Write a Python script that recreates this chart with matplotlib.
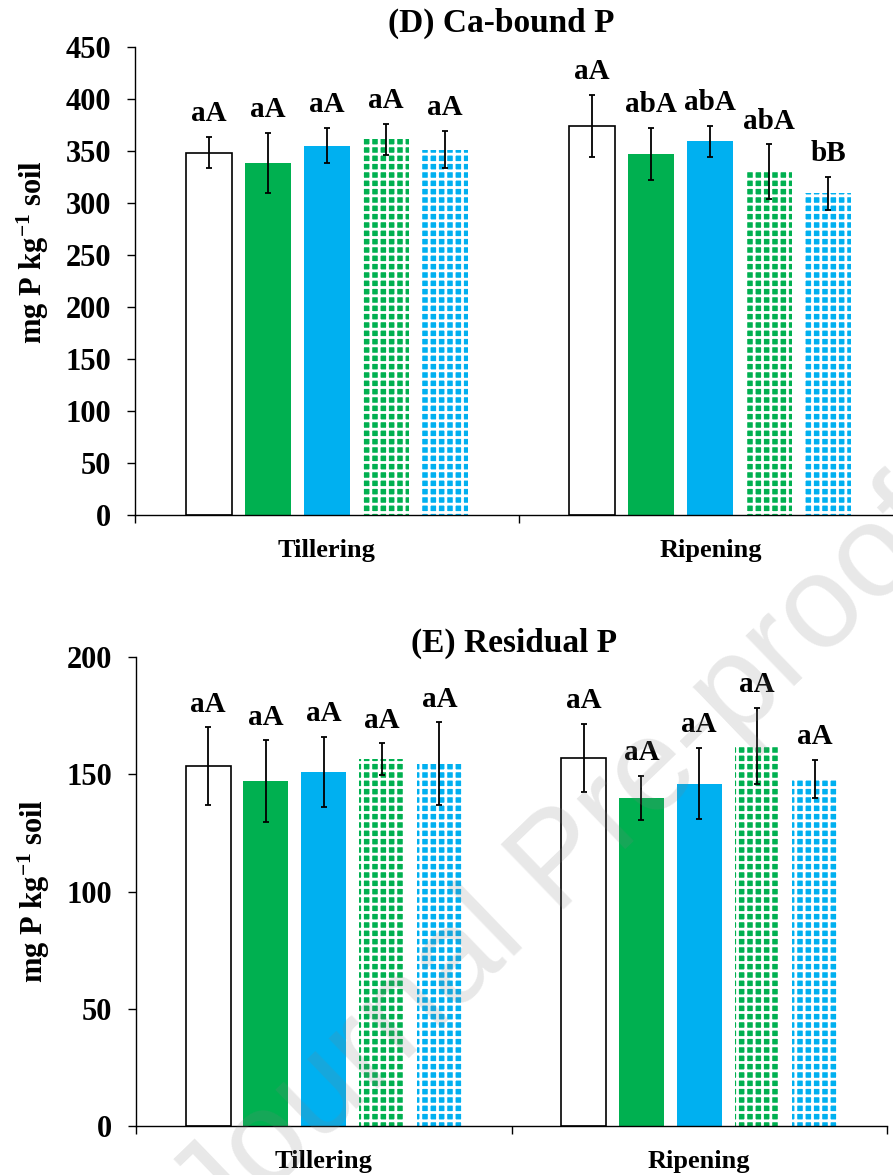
import matplotlib
matplotlib.use('Agg')
import matplotlib.pyplot as plt
import numpy as np

# growth stages and treatments
stages = ['Tillering', 'Ripening']
n_treat = 5

# (D) Ca-bound P
ca_mean = [[348, 338, 355, 361, 351],
           [374, 347, 359, 330, 309]]
ca_err = [[15, 29, 17, 15, 18],
          [30, 25, 15, 26, 16]]
ca_letters = [['aA', 'aA', 'aA', 'aA', 'aA'],
              ['aA', 'abA', 'abA', 'abA', 'bB']]

# (E) Residual P
res_mean = [[153.5, 147, 151, 156.5, 154.5],
            [157, 140, 146, 162, 148]]
res_err = [[16.5, 17.5, 15, 6.7, 17.6],
           [14.5, 9.3, 15.2, 16.3, 8.2]]
res_letters = [['aA'] * 5, ['aA'] * 5]

GREEN = '#00B050'
BLUE = '#00B0F0'
face = ['white', GREEN, BLUE, GREEN, BLUE]
hatches = [None, None, None, '++', '++']

plt.rcParams['font.family'] = ['Liberation Serif', 'DejaVu Serif']
plt.rcParams['font.weight'] = 'bold'
plt.rcParams['mathtext.fontset'] = 'custom'
plt.rcParams['mathtext.rm'] = 'Liberation Serif:bold'
plt.rcParams['mathtext.default'] = 'rm'
plt.rcParams['hatch.linewidth'] = 2.0
plt.rcParams['axes.linewidth'] = 1.0


def draw_panel(ax, means, errs, letters, title, ymax, ystep, title_x, title_y):
    slot = 0.154
    width = 0.12
    base = np.arange(len(stages))
    for t in range(n_treat):
        xs = base + (t - 2) * slot
        vals = [means[s][t] for s in range(len(stages))]
        ers = [errs[s][t] for s in range(len(stages))]
        if hatches[t] is None:
            ax.bar(xs, vals, width, color=face[t],
                   edgecolor='black' if t == 0 else face[t],
                   linewidth=1.2 if t == 0 else 0, zorder=2)
        else:
            ax.bar(xs, vals, width, color=face[t], edgecolor='white',
                   hatch=hatches[t], linewidth=0, zorder=2)
        ax.errorbar(xs, vals, yerr=ers, fmt='none', ecolor='black',
                    elinewidth=1.3, capsize=2, capthick=1.3, zorder=3)
        for s in range(len(stages)):
            ax.annotate(letters[s][t], (xs[s], vals[s] + ers[s]),
                        xytext=(0, 7), textcoords='offset points',
                        ha='center', va='bottom', fontsize=21,
                        fontweight='bold')
    ax.set_xlim(-0.5, 1.5)
    ax.set_ylim(0, ymax)
    ax.set_yticks(np.arange(0, ymax + 1, ystep))
    ax.set_xticks(base)
    ax.set_xticklabels(stages, fontsize=19, fontweight='bold')
    ax.set_xticks([-0.5, 0.5, 1.5], minor=True)
    ax.tick_params(axis='x', which='major', length=0, pad=17)
    ax.tick_params(axis='x', which='minor', length=6, width=1.0, direction='out')
    ax.tick_params(axis='y', length=6, width=1.0, direction='out', pad=11,
                   labelsize=22)
    for lab in ax.get_yticklabels():
        lab.set_fontweight('bold')
    ax.spines['top'].set_visible(False)
    ax.spines['right'].set_visible(False)
    ax.set_ylabel(r'mg P kg$^{-1}$ soil', fontsize=22, fontweight='bold')
    ax.text(title_x, title_y, title, transform=ax.transAxes, ha='center',
            va='center', fontsize=24, fontweight='bold')


fig = plt.figure(figsize=(8.93, 11.75), dpi=100)
ax1 = fig.add_axes([0.1512, 0.5617, 0.859, 0.3986])
ax2 = fig.add_axes([0.1523, 0.0417, 0.841, 0.3991])

draw_panel(ax1, ca_mean, ca_err, ca_letters, '(D) Ca-bound P', 450, 50, 0.478, 1.05)
draw_panel(ax2, res_mean, res_err, res_letters, '(E) Residual P', 200, 50, 0.504, 1.03)
ax1.yaxis.set_label_coords(-0.11, 0.562)
ax2.yaxis.set_label_coords(-0.112, 0.5)

# watermark
fig.text(0.628, 0.265, 'Journal Pre-proof', rotation=44, ha='center', va='center',
         fontsize=95, color='gray', alpha=0.18, family='Liberation Sans',
         fontweight='normal', zorder=10)

fig.savefig('out.png', dpi=100)
